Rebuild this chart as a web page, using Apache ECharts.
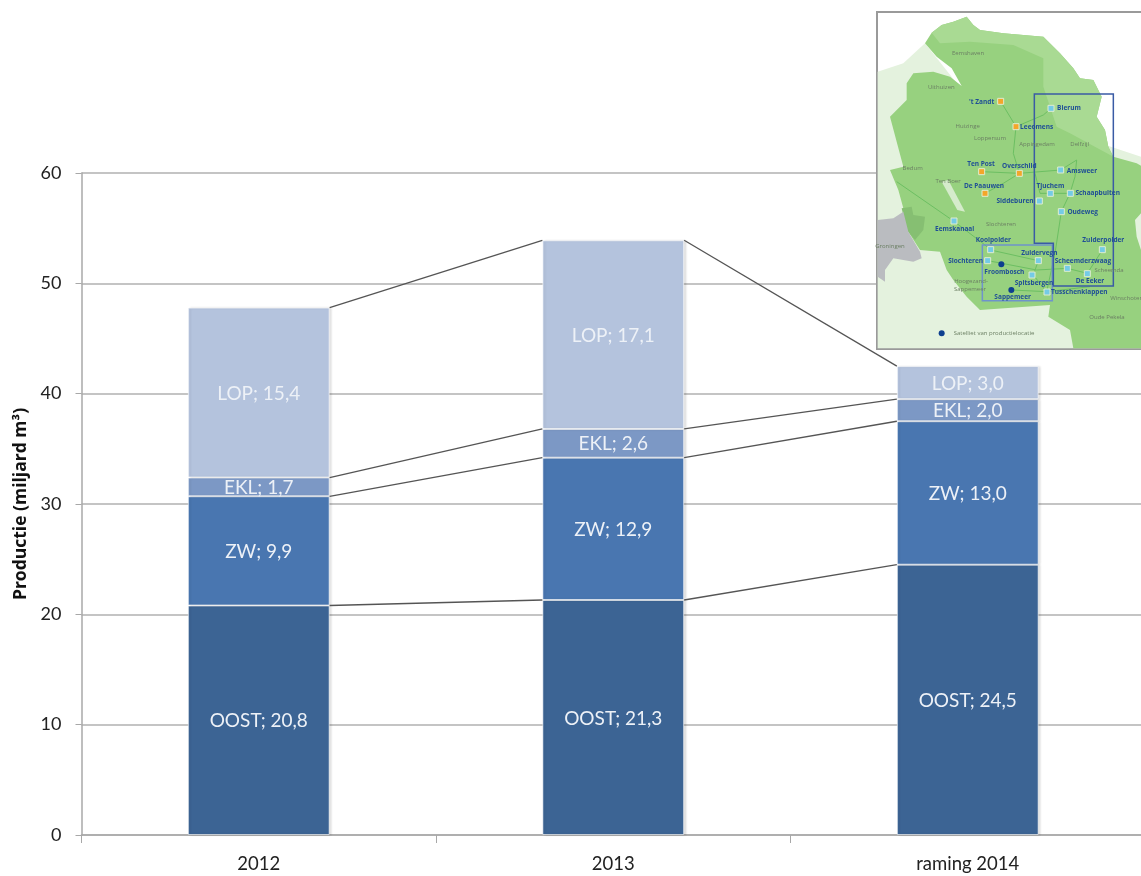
<!DOCTYPE html>
<html>
<head>
<meta charset="utf-8">
<title>Productie</title>
<style>
    html, body {margin: 0; padding: 0; background: #fff;}
    #chart {width: 1141px; height: 876px;}
</style>
<script src="https://cdn.jsdelivr.net/npm/echarts@6/dist/echarts.min.js"></script>
</head>
<body>
<div id="chart"></div>
<script>
const categories = ['2012', '2013', 'raming 2014'];
const yTicks = [0, 10, 20, 30, 40, 50, 60];
const oost = [20.8, 21.3, 24.5];
const zw = [9.9, 12.9, 13.0];
const ekl = [1.7, 2.6, 2.0];
const lop = [15.4, 17.1, 3.0];
const axisTitle = 'Productie (miljard m³)';

// map inset, coordinates are in 3x units from the panel corner (870, 0)
const mapPale = [[23,215],[100,190],[165,130],[300,300],[813,470],[813,1045],[23,1045]];
const mapLand = [[185,98],[215,75],[250,65],[290,50],[310,75],[330,90],[400,100],[520,110],[570,160],[610,205],[630,235],[670,240],[695,290],[680,350],[705,390],[715,440],[730,470],[800,490],[813,497],[813,640],[795,660],[800,710],[813,750],[813,1045],[610,1045],[600,990],[535,950],[540,915],[330,930],[290,890],[250,840],[230,810],[210,755],[150,750],[115,695],[100,625],[85,570],[60,510],[100,500],[60,350],[110,300],[110,250],[130,220],[190,215],[240,230],[275,258],[245,205],[200,170],[165,130]];
const mapNorth = [[185,98],[215,75],[250,65],[290,50],[310,75],[330,90],[400,100],[520,110],[570,160],[610,205],[630,235],[670,240],[695,290],[680,350],[705,390],[715,440],[730,470],[600,400],[560,380],[520,260],[520,175],[430,135],[300,125],[210,130]];
const mapLake = [[215,545],[235,540],[285,635],[262,630]];
const mapPark = [[95,625],[125,620],[130,645],[165,650],[160,690],[135,720],[110,690]];
const mapCity = [[23,660],[70,655],[100,635],[115,695],[150,755],[155,775],[130,785],[70,775],[45,810],[45,845],[23,830]];
const mapRoads = [
    [[392,304],[438,380],[430,460],[448,520]],
    [[438,380],[520,345],[543,325]],
    [[335,515],[448,520],[572,510]],
    [[345,580],[400,550],[448,520]],
    [[572,510],[620,480],[615,530],[600,580],[574,635],[555,760],[530,875]],
    [[495,520],[510,580],[541,580],[600,580]],
    [[252,664],[345,735],[362,750]],
    [[80,545],[252,664]],
    [[362,750],[505,782],[490,825],[530,875]],
    [[354,782],[500,810],[592,805],[652,820],[697,750]],
    [[425,870],[530,875],[660,860]]
];
const mapBoxOuter = [[493,282],[730,282],[730,858],[550,858],[550,730],[493,730]];
const mapBoxInner = [[337,735],[547,735],[547,902],[337,902]];
// name, marker x, marker y, kind, label x, label y
const mapSites = [
    ['\'t Zandt', 392, 304, 'o', 335, 305], ['Leeomens', 438, 380, 'o', 500, 380], ['Ten Post', 335, 515, 'o', 333, 493],
    ['Overschild', 448, 520, 'o', 448, 498], ['De Paauwen', 345, 580, 'o', 342, 557], ['Bierum', 543, 325, 'b', 597, 325],
    ['Amsweer', 572, 510, 'b', 636, 512], ['Tjuchem', 541, 580, 'b', 541, 557], ['Schaapbulten', 601, 580, 'b', 683, 579],
    ['Siddeburen', 508, 603, 'b', 435, 603], ['Oudeweg', 574, 635, 'b', 638, 636], ['Eemskanaal', 252, 663, 'b', 254, 688],
    ['Kooipolder', 362, 749, 'b', 370, 721], ['Slochteren', 353, 782, 'b', 287, 782], ['Zuidervegn', 505, 782, 'b', 508, 759],
    ['Zuiderpolder', 697, 749, 'b', 700, 720], ['Scheemderzwaag', 592, 805, 'b', 639, 784], ['De Eeker', 652, 821, 'b', 660, 844],
    ['Spitsbergen', 486, 825, 'b', 492, 849], ['Tusschenklappen', 531, 876, 'b', 628, 877]
];
const mapSatellites = [['Froombosch', 394, 793, 403, 815], ['Sappemeer', 424, 870, 428, 890]];
const mapPlaces = [
    ['Eemshaven', 294, 160], ['Uithuizen', 214, 263], ['Huizinge', 293, 380], ['Loppersum', 360, 415],
    ['Appingedam', 501, 433], ['Delfzijl', 629, 432], ['Bedum', 128, 505], ['Ten Boer', 234, 544],
    ['Slochteren', 393, 673], ['Groningen', 60, 738], ['Scheemda', 717, 810], ['Hoogezand-', 303, 843],
    ['Sappemeer', 300, 867], ['Winschoten', 770, 895], ['Oude Pekela', 711, 953]
];
const mapLegend = 'Satelliet van productielocatie';

const px = (p) => [870 + p[0] / 3, p[1] / 3];
const fmt = (v) => v.toFixed(1).replace('.', ',');
const sum = (i, arrs) => arrs.reduce((s, a) => s + a[i], 0);

function getConnectors() {
    const rows = [];
    const levels = [[oost], [oost, zw], [oost, zw, ekl], [oost, zw, ekl, lop]];
    levels.forEach(arrs => {
        for (let i = 0; i < categories.length - 1; i++) {
            rows.push([i, sum(i, arrs), sum(i + 1, arrs)]);
        }
    });
    return rows;
}

function getMapGraphics() {
    const items = [];
    const z = 100;
    const poly = (pts, style, closed) => items.push({
        type: closed ? 'polygon' : 'polyline', z, silent: true,
        shape: {points: pts.map(px)}, style
    });
    const text = (str, x, y, font, fill, align) => items.push({
        type: 'text', z: z + 2, silent: true,
        style: {text: str, x, y, font, fill, align: align || 'center', verticalAlign: 'middle'}
    });

    items.push({type: 'rect', z, silent: true, shape: {x: 877, y: 12, width: 270, height: 337},
        style: {fill: '#fff', stroke: '#9a9a9a', lineWidth: 2}});
    poly(mapPale, {fill: '#e4f2de'}, true);
    poly(mapLand, {fill: '#97d17f'}, true);
    poly(mapNorth, {fill: '#a9da93'}, true);
    poly(mapLake, {fill: '#d5ebcb'}, true);
    poly(mapPark, {fill: '#86bf72'}, true);
    poly(mapCity, {fill: '#babcc0'}, true);
    mapRoads.forEach(r => poly(r, {stroke: '#6cbf62', lineWidth: 1, fill: null}, false));
    poly(mapBoxInner, {fill: null, stroke: '#6f93cc', lineWidth: 1.5}, true);
    poly(mapBoxOuter, {fill: null, stroke: '#3a5ba5', lineWidth: 1.5}, true);

    const placeFont = '6px "Open Sans"';
    mapPlaces.forEach(([name, x, y]) => {
        const p = px([x, y]);
        text(name, p[0], p[1], placeFont, '#6b7f63');
    });

    const labelFont = 'bold 6.5px "Open Sans"';
    const blue = '#1f4e96';
    mapSites.forEach(([name, x, y, kind, lx, ly]) => {
        const p = px([x, y]);
        const l = px([lx, ly]);
        items.push({type: 'rect', z: z + 1, silent: true,
            shape: {x: p[0] - 3, y: p[1] - 3, width: 6, height: 6},
            style: {fill: kind === 'o' ? '#f4a62a' : '#74cbe6', stroke: '#dfeccf', lineWidth: 1}});
        text(name, l[0], l[1], labelFont, blue);
    });
    mapSatellites.forEach(([name, x, y, lx, ly]) => {
        const p = px([x, y]);
        const l = px([lx, ly]);
        items.push({type: 'circle', z: z + 1, silent: true, shape: {cx: p[0], cy: p[1], r: 3}, style: {fill: '#0d3f8f'}});
        text(name, l[0], l[1], labelFont, blue);
    });
    const lg = px([215, 1000]);
    items.push({type: 'circle', z: z + 1, silent: true, shape: {cx: lg[0], cy: lg[1], r: 3}, style: {fill: '#0d3f8f'}});
    text(mapLegend, lg[0] + 12, lg[1], placeFont, '#6b7f63', 'left');
    return items;
}

function barSeries(name, data, color) {
    return {
        name,
        type: 'bar',
        stack: 'total',
        barWidth: '40%',
        data,
        itemStyle: {
            color,
            borderColor: 'rgba(255,255,255,0.6)',
            borderWidth: 1,
            shadowColor: 'rgba(0,0,0,0.12)',
            shadowBlur: 2,
            shadowOffsetX: 2
        },
        label: {
            show: true,
            position: 'inside',
            offset: [0, 1],
            color: '#edf1f7',
            fontFamily: 'Lato',
            fontSize: 19,
            formatter: p => `${p.seriesName}; ${fmt(p.value)}`
        }
    };
}

const chart = echarts.init(document.getElementById('chart'), null, {renderer: 'canvas'});
chart.setOption({
    animation: false,
    backgroundColor: '#fff',
    grid: {left: 81.5, top: 173, width: 1063.5, height: 662, outerBoundsMode: 'none'},
    xAxis: {
        type: 'category',
        data: categories,
        axisLine: {lineStyle: {color: '#a8a8a8', width: 1.5}},
        axisTick: {show: true, alignWithLabel: false, length: 8, lineStyle: {color: '#a8a8a8'}},
        axisLabel: {color: '#222', fontFamily: 'Lato', fontSize: 18.5, margin: 20}
    },
    yAxis: {
        type: 'value',
        min: yTicks[0],
        max: yTicks[yTicks.length - 1],
        interval: yTicks[1] - yTicks[0],
        name: axisTitle,
        nameLocation: 'middle',
        nameGap: 48,
        nameTextStyle: {color: '#111', fontFamily: 'Open Sans', fontSize: 17.5, fontWeight: 'bold'},
        axisLine: {show: true, lineStyle: {color: '#a8a8a8', width: 1.5}},
        axisTick: {show: true, length: 6, lineStyle: {color: '#a8a8a8'}},
        axisLabel: {color: '#222', fontFamily: 'Lato', fontSize: 18, margin: 20},
        splitLine: {lineStyle: {color: '#b0b0b0', width: 1.5}}
    },
    series: [
        barSeries('OOST', oost, '#3c6494'),
        barSeries('ZW', zw, '#4976b0'),
        barSeries('EKL', ekl, '#7c98c5'),
        barSeries('LOP', lop, '#b4c3dd'),
        {
            type: 'custom',
            data: getConnectors(),
            z: 3,
            silent: true,
            clip: false,
            renderItem: (params, api) => {
                const i = api.value(0);
                const half = api.size([1, 0])[0] * 0.2;
                const a = api.coord([i, api.value(1)]);
                const b = api.coord([i + 1, api.value(2)]);
                return {
                    type: 'line',
                    shape: {x1: a[0] + half, y1: a[1], x2: b[0] - half, y2: b[1]},
                    style: {stroke: '#555', lineWidth: 1.3}
                };
            }
        }
    ],
    graphic: getMapGraphics()
});
</script>
</body>
</html>
